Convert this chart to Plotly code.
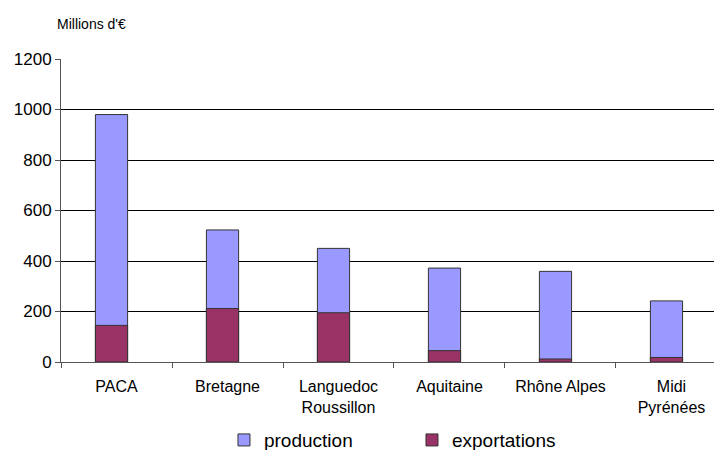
import plotly.graph_objects as go

regions = ["PACA", "Bretagne", "Languedoc<br>Roussillon", "Aquitaine", "Rhône Alpes", "Midi<br>Pyrénées"]
production = [980, 523, 450, 372, 359, 242]
exportations = [145, 212, 195, 45, 12, 18]
y_ticks = [0, 200, 400, 600, 800, 1000, 1200]

FONT = "Liberation Sans, Arial, sans-serif"

fig = go.Figure()
fig.add_trace(go.Bar(
    x=regions, y=production, name="production",
    marker=dict(color="#9999FF", line=dict(color="#333333", width=1)),
    width=0.29, offset=-0.19,
))
fig.add_trace(go.Bar(
    x=regions, y=exportations, name="exportations",
    marker=dict(color="#993366", line=dict(color="#333333", width=1)),
    width=0.29, offset=-0.19,
))

fig.update_layout(
    width=714, height=450,
    margin=dict(l=61, r=0, t=59, b=88, autoexpand=False),
    barmode="overlay",
    plot_bgcolor="white", paper_bgcolor="white",
    font=dict(family=FONT, color="#000000"),
    showlegend=True,
    legend=dict(
        orientation="h", xref="container", yref="container",
        x=0.577, xanchor="center", y=0.022, yanchor="middle",
        font=dict(size=19, family=FONT), entrywidth=143, itemwidth=30,
        traceorder="normal",
    ),
    annotations=[dict(
        text="Millions d'€", xref="paper", yref="paper",
        x=-0.0095, y=1.115, xanchor="left", yanchor="middle",
        showarrow=False, font=dict(size=14, family=FONT),
    )],
)
fig.update_xaxes(
    type="category", range=[-0.5, 5.383], automargin=False,
    showline=True, linecolor="#555555", linewidth=1,
    ticks="outside", tickson="boundaries", ticklen=5, tickcolor="#555555",
    tickfont=dict(size=16, family=FONT), showgrid=False, ticklabelstandoff=10,
)
fig.update_yaxes(
    range=[0, 1200], tickvals=y_ticks, automargin=False,
    showline=True, linecolor="#555555", linewidth=1,
    ticks="outside", ticklen=5, tickcolor="#555555",
    showgrid=True, gridcolor="#000000", gridwidth=1,
    tickfont=dict(size=17, family=FONT), zeroline=False,
)

fig.write_html(
    "out.html",
    config={"displayModeBar": False},
    post_script="document.body.style.margin='0';document.body.style.overflow='hidden';",
)
